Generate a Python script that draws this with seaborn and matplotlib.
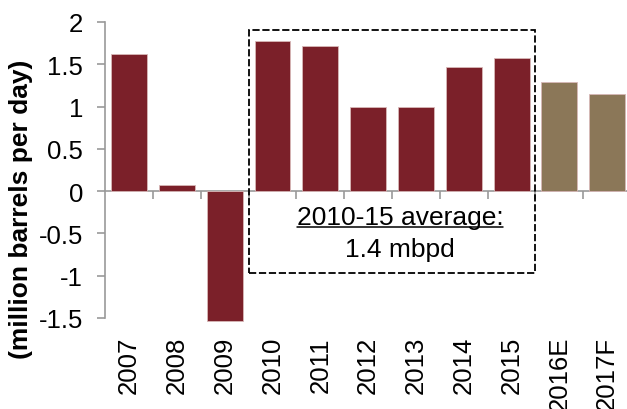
import matplotlib
matplotlib.use("Agg")
import matplotlib.pyplot as plt
import seaborn as sns
import pandas as pd
from matplotlib.patches import Rectangle

categories = ["2007", "2008", "2009", "2010", "2011", "2012", "2013", "2014", "2015", "2016E", "2017F"]
values = [1.62, 0.07, -1.53, 1.77, 1.72, 1.00, 0.99, 1.47, 1.57, 1.29, 1.15]
kinds = ["Actual"] * 9 + ["Forecast"] * 2
yticks = [-1.5, -1, -0.5, 0, 0.5, 1, 1.5, 2]
ytick_labels = ["-1.5", "-1", "-0.5", "0", "0.5", "1", "1.5", "2"]
box_title = "2010-15 average:"
box_value = "1.4 mbpd"

df = pd.DataFrame({"year": categories, "value": values, "kind": kinds})

sns.set_theme(style="white")
plt.rcParams["font.family"] = ["Liberation Sans", "DejaVu Sans"]
plt.rcParams["text.color"] = "black"
plt.rcParams["xtick.color"] = "black"
plt.rcParams["ytick.color"] = "black"
plt.rcParams["axes.labelcolor"] = "black"

fig = plt.figure(figsize=(6.27, 4.10), dpi=100)
ax = fig.add_axes([105.2 / 627, 1 - 319 / 410, (631.1 - 105.2) / 627, (319 - 23) / 410])

sns.barplot(data=df, x="year", y="value", hue="kind",
            palette={"Actual": "#7B2029", "Forecast": "#8B7758"},
            saturation=1, dodge=False, width=0.75, legend=False, ax=ax,
            edgecolor="#d8b8b8", linewidth=0.6)
for p in ax.patches:
    p.set_clip_on(False)

ax.set_xlim(-0.5, len(categories) - 0.5)
ax.set_ylim(-1.5, 2)
ax.set_yticks(yticks)
ax.set_yticklabels(ytick_labels, fontsize=18.5)
ax.set_xlabel("")
ax.set_ylabel("(million barrels per day)", fontsize=19, fontweight="bold")
ax.yaxis.set_label_coords(-0.137, 0.372)

for s in ["top", "right", "bottom"]:
    ax.spines[s].set_visible(False)
ax.spines["left"].set_color("#999999")
ax.spines["left"].set_linewidth(1.2)
ax.tick_params(axis="y", direction="out", length=6, width=1.2, color="#999999",
               labelcolor="black", pad=10, left=True)
ax.tick_params(axis="x", length=0, pad=13, labelsize=18.5, labelrotation=90, labelcolor="black")

# zero axis with boundary ticks
zero_frac = (0 - (-1.5)) / (2 - (-1.5))
sec = ax.secondary_xaxis(zero_frac)
sec.set_xticks([i + 0.5 for i in range(len(categories) - 1)])
sec.set_xticklabels([])
sec.spines["bottom"].set_color("#999999")
sec.spines["bottom"].set_linewidth(1.2)
sec.tick_params(direction="out", length=6, width=1.2, color="#999999")

# dashed box around 2010-15
box = Rectangle((2.5, -0.97), 6.0, 1.905 + 0.97, fill=False, linestyle=(0, (4, 1.5)),
                edgecolor="black", linewidth=1.3, zorder=5, clip_on=False)
ax.add_patch(box)

t1 = ax.text(5.67, -0.31, box_title, ha="center", va="center", fontsize=19, color="black")
t2 = ax.text(5.67, -0.68, box_value, ha="center", va="center", fontsize=19, color="black")

fig.canvas.draw()
bb = t1.get_window_extent()
inv = ax.transData.inverted()
(x0, y0) = inv.transform((bb.x0, bb.y0 + 2))
(x1, _) = inv.transform((bb.x1, bb.y0 + 2))
ax.plot([x0, x1], [y0, y0], color="black", linewidth=1.1)

fig.savefig("out.png", dpi=100)
